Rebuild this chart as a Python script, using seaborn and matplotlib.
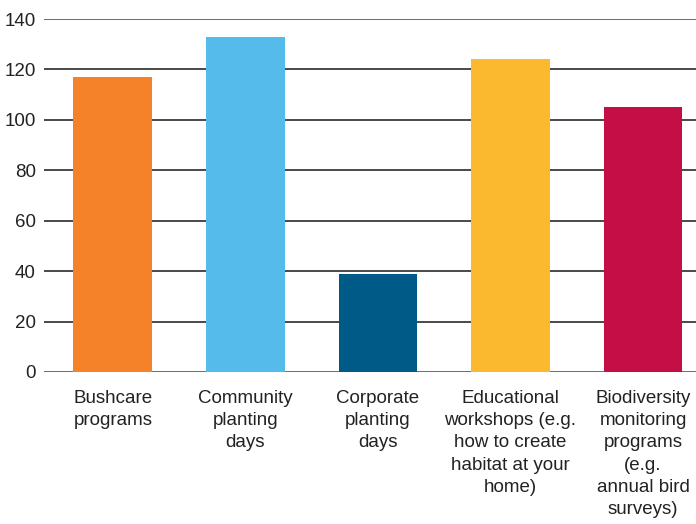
import matplotlib
matplotlib.use("Agg")
import matplotlib.pyplot as plt
import seaborn as sns
import pandas as pd

categories = [
    "Bushcare\nprograms",
    "Community\nplanting\ndays",
    "Corporate\nplanting\ndays",
    "Educational\nworkshops (e.g.\nhow to create\nhabitat at your\nhome)",
    "Biodiversity\nmonitoring\nprograms\n(e.g.\nannual bird\nsurveys)",
]
values = [117, 133, 39, 124, 105]
colors = ["#F58229", "#55BBEA", "#005A87", "#FBB930", "#C50E46"]
yticks = [0, 20, 40, 60, 80, 100, 120, 140]

sns.set_theme(style="white")
plt.rcParams["font.family"] = ["Liberation Sans", "DejaVu Sans"]

fig = plt.figure(figsize=(6.96, 5.24), dpi=100)
ax = fig.add_axes([44/696, 1-372/524, 1-44/696, (372-19)/524])

df = pd.DataFrame({"cat": categories, "val": values})
sns.barplot(data=df, x="cat", y="val", hue="cat", palette=colors, legend=False,
            width=0.595, ax=ax, saturation=1, edgecolor="none", zorder=3)

ax.set_ylim(0, 140)
ax.set_xlim(-0.52, 4.4)
ax.set_yticks(yticks)
ax.set_yticklabels([str(t) for t in yticks])
for t in yticks:
    gc = "#555555" if t in (0, 140) else "#2a2a2a"
    ax.axhline(t, color=gc, lw=1.2, zorder=1)
for s in ax.spines.values():
    s.set_visible(False)
ax.set_xlabel("")
ax.set_ylabel("")
ax.tick_params(axis="y", length=0, pad=6, labelsize=13.5, labelcolor="#222222")
ax.tick_params(axis="x", length=0, pad=13, labelsize=13.5, labelcolor="#222222")
for lbl in ax.get_xticklabels():
    lbl.set_linespacing(1.4)
    lbl.set_ha("center")

fig.savefig("out.png", dpi=100)
